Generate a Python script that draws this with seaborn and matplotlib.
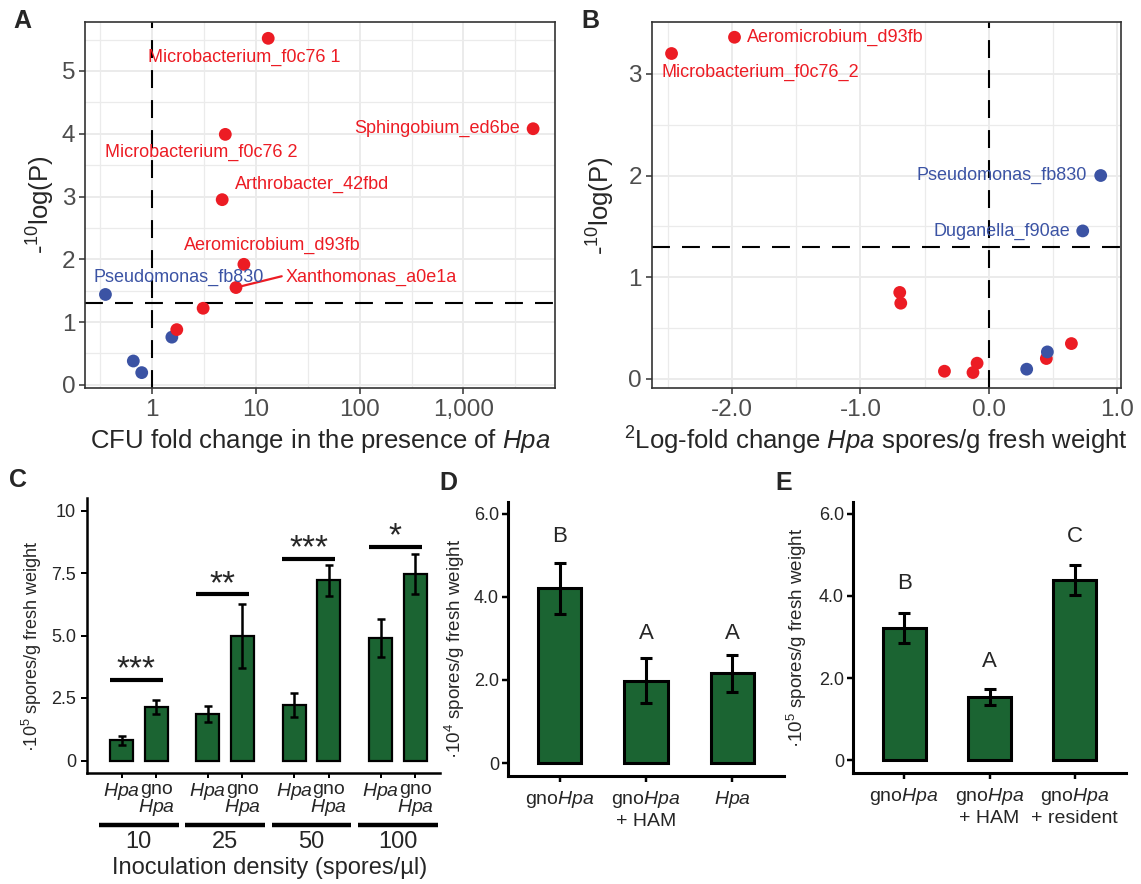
import numpy as np
import pandas as pd
import seaborn as sns
import matplotlib.pyplot as plt
from matplotlib.ticker import FixedLocator, FixedFormatter

# --- estilo general ---
sns.set_theme(style="white")
plt.rcParams["font.family"] = ["Liberation Sans", "DejaVu Sans"]
plt.rcParams["mathtext.fontset"] = "custom"
plt.rcParams["mathtext.rm"] = "Liberation Sans"
plt.rcParams["mathtext.it"] = "Liberation Sans:italic"
plt.rcParams["mathtext.bf"] = "Liberation Sans:bold"

W, H = 1141, 884
RED = "#ec1c24"
BLUE = "#3b53a4"
GREEN = "#1b6432"
GRID = "#ebebeb"
TICK = "#4d4d4d"

# --- datos A: CFU fold change vs -log10(P) ---
a_fold = [0.358, 1.56, 0.664, 0.80, 13.2, 5.1, 4680, 4.76, 7.7, 6.46, 3.12, 1.74]
a_logp = [1.44, 0.76, 0.38, 0.195, 5.52, 3.99, 4.08, 2.95, 1.92, 1.55, 1.22, 0.88]
a_group = ["non-HAM"] * 4 + ["HAM"] * 8
a_name = ["Pseudomonas_fb830", "", "", "", "Microbacterium_f0c76 1",
          "Microbacterium_f0c76 2", "Sphingobium_ed6be", "Arthrobacter_42fbd",
          "Aeromicrobium_d93fb", "Xanthomonas_a0e1a", "", ""]

# --- datos B: log2 fold change Hpa spores vs -log10(P) ---
b_lfc = [-2.47, -1.98, 0.87, 0.73, -0.694, -0.686, -0.346, -0.124, -0.092,
         0.294, 0.447, 0.455, 0.642]
b_logp = [3.20, 3.36, 2.00, 1.455, 0.85, 0.744, 0.075, 0.062, 0.154,
          0.095, 0.20, 0.265, 0.347]
b_group = ["HAM", "HAM", "non-HAM", "non-HAM", "HAM", "HAM", "HAM", "HAM",
           "HAM", "non-HAM", "HAM", "non-HAM", "HAM"]
b_name = ["Microbacterium_f0c76_2", "Aeromicrobium_d93fb", "Pseudomonas_fb830",
          "Duganella_f90ae", "", "", "", "", "", "", "", "", ""]

# --- datos C: densidad de inoculo ---
c_density = ["10", "25", "50", "100"]
c_inoculum = ["Hpa", "gnoHpa"]
c_mean = [0.81, 2.14, 1.86, 4.99, 2.22, 7.21, 4.91, 7.46]
c_se = [0.18, 0.27, 0.31, 1.28, 0.48, 0.61, 0.76, 0.80]
c_sig = ["***", "**", "***", "*"]
c_sig_y = [3.24, 6.65, 8.08, 8.55]

# --- datos D ---
d_treat = ["gno$\\it{Hpa}$", "gno$\\it{Hpa}$\n+ HAM", "$\\it{Hpa}$"]
d_mean = [4.20, 1.98, 2.16]
d_se = [0.62, 0.54, 0.44]
d_letter = ["B", "A", "A"]
d_letter_y = [5.46, 3.12, 3.12]

# --- datos E ---
e_treat = ["gno$\\it{Hpa}$", "gno$\\it{Hpa}$\n+ HAM", "gno$\\it{Hpa}$\n+ resident"]
e_mean = [3.22, 1.54, 4.38]
e_se = [0.37, 0.19, 0.37]
e_letter = ["B", "A", "C"]
e_letter_y = [4.30, 2.39, 5.45]

palette = {"HAM": RED, "non-HAM": BLUE}

fig = plt.figure(figsize=(W / 100, H / 100), dpi=100)


def px_axes(l, t, r, b):
    return fig.add_axes([l / W, 1 - b / H, (r - l) / W, (b - t) / H])


def ftext(px, py, s, **kw):
    fig.text(px / W, 1 - py / H, s, **kw)


def style_bw(ax):
    ax.set_axisbelow(True)
    ax.grid(which="major", color=GRID, lw=1.4)
    ax.grid(which="minor", color=GRID, lw=0.9)
    for sp in ax.spines.values():
        sp.set_color("#333333")
        sp.set_linewidth(1.2)
    ax.tick_params(which="major", length=4, width=1.1, color="#333333",
                   labelcolor=TICK, labelsize=17.5, pad=3,
                   bottom=True, left=True)
    ax.tick_params(axis="x", which="major", pad=4)
    ax.tick_params(which="minor", length=0)
    ax.set_xlabel("")
    ax.set_ylabel("")


DASH = (0, (8.6, 5.8))

# ---------------- Panel A ----------------
axA = px_axes(85, 22, 555, 388)
dfA = pd.DataFrame({"fold": a_fold, "logp": a_logp, "group": a_group, "name": a_name})
axA.set_xscale("log")
sns.scatterplot(data=dfA, x="fold", y="logp", hue="group", palette=palette,
                s=85, edgecolor="none", legend=False, ax=axA, zorder=3)
axA.set_xlim(0.2276, 7600)
axA.set_ylim(-0.05, 5.78)
axA.xaxis.set_major_locator(FixedLocator([1, 10, 100, 1000]))
axA.xaxis.set_major_formatter(FixedFormatter(["1", "10", "100", "1,000"]))
axA.xaxis.set_minor_locator(FixedLocator([10 ** (k + 0.5) for k in range(-1, 4)]))
axA.yaxis.set_major_locator(FixedLocator([0, 1, 2, 3, 4, 5]))
axA.yaxis.set_minor_locator(FixedLocator([0.5, 1.5, 2.5, 3.5, 4.5, 5.5]))
style_bw(axA)
axA.axvline(1, color="black", ls=DASH, lw=1.5, zorder=2)
axA.axhline(1.3, color="black", ls=DASH, lw=1.5, zorder=2)

a_label_pos = {
    "Pseudomonas_fb830": (0.277, 1.71, "left"),
    "Microbacterium_f0c76 1": (7.7, 5.21, "center"),
    "Microbacterium_f0c76 2": (3.02, 3.70, "center"),
    "Sphingobium_ed6be": (3516, 4.08, "right"),
    "Arthrobacter_42fbd": (6.37, 3.19, "left"),
    "Aeromicrobium_d93fb": (14.3, 2.22, "center"),
    "Xanthomonas_a0e1a": (19.4, 1.71, "left"),
}
for _, row in dfA[dfA["name"] != ""].iterrows():
    lx, ly, ha = a_label_pos[row["name"]]
    axA.text(lx, ly, row["name"], color=palette[row["group"]], fontsize=13,
             ha=ha, va="center", zorder=4)
    if row["name"] == "Xanthomonas_a0e1a":
        axA.plot([row["fold"], 17.8], [row["logp"], 1.73], color=RED, lw=1.6, zorder=3)

# ---------------- Panel B ----------------
axB = px_axes(651.5, 22, 1121, 388)
dfB = pd.DataFrame({"lfc": b_lfc, "logp": b_logp, "group": b_group, "name": b_name})
sns.scatterplot(data=dfB, x="lfc", y="logp", hue="group", palette=palette,
                s=85, edgecolor="none", legend=False, ax=axB, zorder=3)
axB.set_xlim(-2.626, 1.028)
axB.set_ylim(-0.09, 3.51)
axB.xaxis.set_major_locator(FixedLocator([-2.0, -1.0, 0.0, 1.0]))
axB.xaxis.set_major_formatter(FixedFormatter(["-2.0", "-1.0", "0.0", "1.0"]))
axB.xaxis.set_minor_locator(FixedLocator([-2.5, -1.5, -0.5, 0.5]))
axB.yaxis.set_major_locator(FixedLocator([0, 1, 2, 3]))
axB.yaxis.set_minor_locator(FixedLocator([0.5, 1.5, 2.5]))
style_bw(axB)
axB.axvline(0, color="black", ls=DASH, lw=1.5, zorder=2)
axB.axhline(1.3, color="black", ls=DASH, lw=1.5, zorder=2)

b_label_pos = {
    "Aeromicrobium_d93fb": (-1.884, 3.36, "left"),
    "Microbacterium_f0c76_2": (-2.55, 3.01, "left"),
    "Pseudomonas_fb830": (0.76, 2.0, "right"),
    "Duganella_f90ae": (0.63, 1.455, "right"),
}
for _, row in dfB[dfB["name"] != ""].iterrows():
    lx, ly, ha = b_label_pos[row["name"]]
    axB.text(lx, ly, row["name"], color=palette[row["group"]], fontsize=13,
             ha=ha, va="center", zorder=4)

ftext(320, 441, "CFU fold change in the presence of $\\it{Hpa}$", fontsize=18.5,
      ha="center", va="center")
ftext(876, 441, "${}^{2}$Log-fold change $\\it{Hpa}$ spores/g fresh weight",
      fontsize=18.5, ha="center", va="center")
ftext(41, 205, "-${}^{10}$log(P)", fontsize=18.5, rotation=90, ha="center", va="center")
ftext(601, 206, "-${}^{10}$log(P)", fontsize=18.5, rotation=90, ha="center", va="center")


def style_classic(ax, lw=1.8):
    for side in ["top", "right"]:
        ax.spines[side].set_visible(False)
    for side in ["left", "bottom"]:
        ax.spines[side].set_color("black")
        ax.spines[side].set_linewidth(lw)
    ax.grid(False)
    ax.tick_params(length=4.5, width=lw * 0.8, color="black", labelcolor="#262626",
                   bottom=True, left=True)
    ax.set_xlabel("")
    ax.set_ylabel("")


# ---------------- Panel C ----------------
axC = px_axes(87, 498, 440, 773)
c_pos = [2.5 * g + i for g in range(len(c_density)) for i in range(len(c_inoculum))]
dfC = pd.DataFrame({"pos": c_pos, "mean": c_mean})
sns.barplot(data=dfC, x="pos", y="mean", native_scale=True, width=0.67,
            color=GREEN, saturation=1, edgecolor="black", linewidth=1.6,
            errorbar=None, ax=axC)
axC.errorbar(c_pos, c_mean, yerr=c_se, fmt="none", ecolor="black",
             elinewidth=1.8, capsize=3, capthick=1.8, zorder=5)
axC.set_xlim(-1.0, 9.22)
axC.set_ylim(-0.5, 10.5)
style_classic(axC)
axC.yaxis.set_major_locator(FixedLocator([0, 2.5, 5, 7.5, 10]))
axC.yaxis.set_major_formatter(FixedFormatter(["0", "2.5", "5.0", "7.5", "10"]))
axC.xaxis.set_major_locator(FixedLocator(c_pos))
c_ticklabels = ["$\\it{Hpa}$" if lab == "Hpa" else "gno\n$\\it{Hpa}$"
                for _ in c_density for lab in c_inoculum]
axC.xaxis.set_major_formatter(FixedFormatter(c_ticklabels))
axC.tick_params(axis="y", labelsize=13)
axC.tick_params(axis="x", labelsize=14, pad=2, length=3.5)
for lab in axC.get_xticklabels():
    lab.set_linespacing(0.95)

for g, (sig, sy) in enumerate(zip(c_sig, c_sig_y)):
    x0 = 2.5 * g
    axC.plot([x0 - 0.34, x0 + 1.19], [sy, sy], color="black", lw=3,
             solid_capstyle="butt")
    axC.text(x0 + 0.42, sy + 0.05, sig, fontsize=24, ha="center", va="baseline")

xtrans = axC.get_xaxis_transform()
for g, dens in enumerate(c_density):
    xc = 2.5 * g + 0.5
    axC.plot([xc - 1.15, xc + 1.15], [-0.189, -0.189], color="black", lw=3.2,
             solid_capstyle="butt", transform=xtrans, clip_on=False)
    axC.text(xc, -0.25, dens, fontsize=17, ha="center", va="center",
             transform=xtrans)
ftext(270, 868, "Inoculation density (spores/\u00b5l)", fontsize=17,
      ha="center", va="center")
ftext(32, 646, "\u00b710${}^{5}$ spores/g fresh weight", fontsize=13,
      rotation=90, ha="center", va="center")


def letter_bars(ax, treat, mean, se, letters, letter_y):
    dfX = pd.DataFrame({"treat": treat, "mean": mean})
    sns.barplot(data=dfX, x="treat", y="mean", width=0.5, color=GREEN,
                saturation=1, edgecolor="black", linewidth=2.2,
                errorbar=None, ax=ax)
    ax.errorbar(range(len(mean)), mean, yerr=se, fmt="none", ecolor="black",
                elinewidth=2.2, capsize=4, capthick=2.2, zorder=5)
    for i, (lt, ly) in enumerate(zip(letters, letter_y)):
        ax.text(i, ly, lt, fontsize=16, ha="center", va="center")
    ax.set_xlim(-0.6, 2.6)
    ax.set_ylim(-0.31, 6.28)
    style_classic(ax, lw=2.2)
    ax.yaxis.set_major_locator(FixedLocator([0, 2, 4, 6]))
    ax.yaxis.set_major_formatter(FixedFormatter(["0", "2.0", "4.0", "6.0"]))
    ax.tick_params(axis="y", labelsize=13, pad=2)
    ax.tick_params(axis="x", labelsize=14, pad=5)


# ---------------- Panel D ----------------
axD = px_axes(508, 502, 784, 776)
letter_bars(axD, d_treat, d_mean, d_se, d_letter, d_letter_y)
ftext(455, 649, "\u00b710${}^{4}$ spores/g fresh weight", fontsize=13.5,
      rotation=90, ha="center", va="center")

# ---------------- Panel E ----------------
axE = px_axes(853, 502, 1126, 773)
letter_bars(axE, e_treat, e_mean, e_se, e_letter, e_letter_y)
ftext(797, 638, "\u00b710${}^{5}$ spores/g fresh weight", fontsize=13.5,
      rotation=90, ha="center", va="center")

# --- letras de panel ---
for lt, px, py in [("A", 22, 21), ("B", 590, 21), ("C", 18, 480),
                   ("D", 448, 483), ("E", 784, 483)]:
    ftext(px, py, lt, fontsize=18, fontweight="bold", ha="center", va="center")

fig.savefig("out.png", dpi=100)
